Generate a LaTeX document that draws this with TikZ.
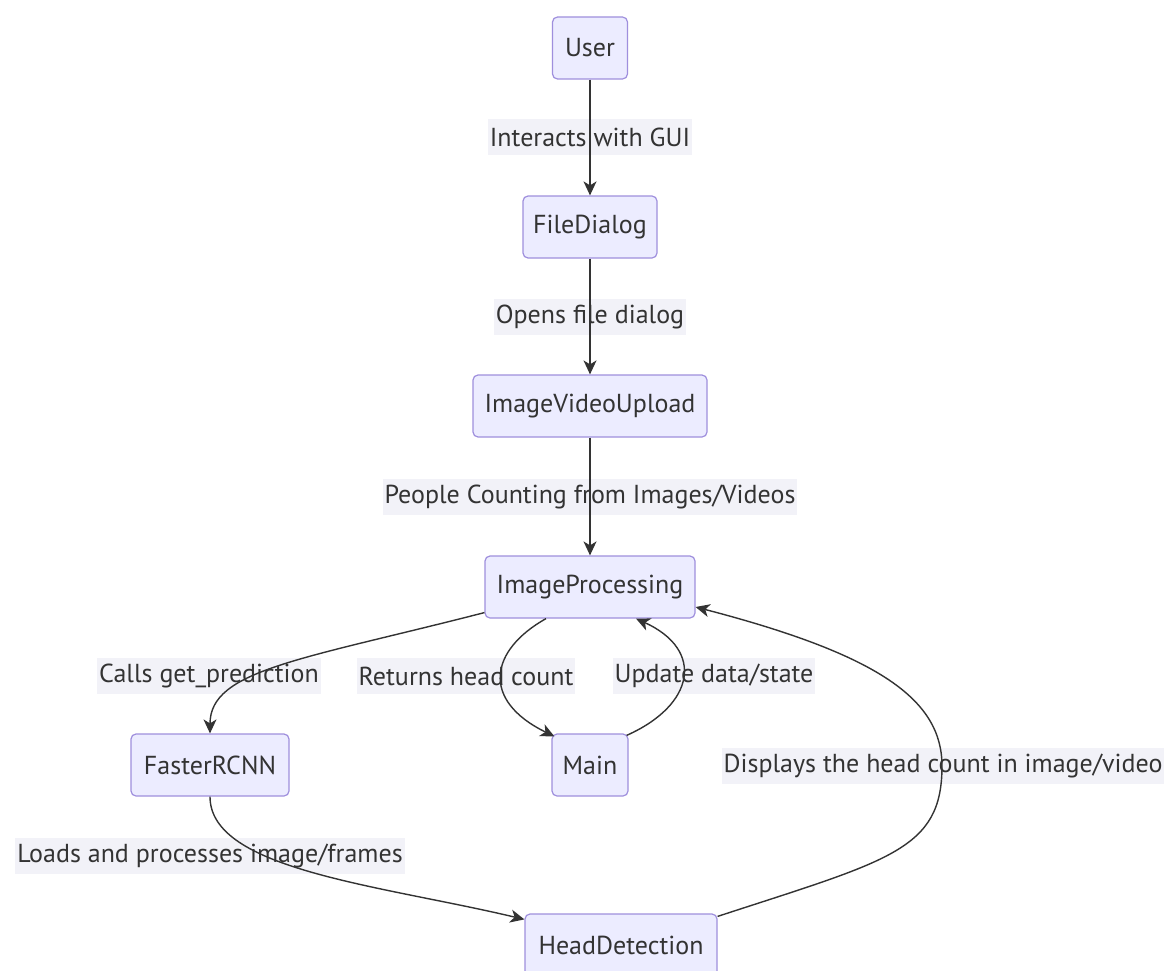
\documentclass[tikz,border=0pt]{standalone}
\usepackage{fontspec}
\setmainfont{PT Sans}
\usetikzlibrary{arrows.meta}
\definecolor{nodefill}{HTML}{ECECFF}
\definecolor{nodestroke}{HTML}{9F8FDD}
\definecolor{txt}{HTML}{333333}
\definecolor{lblbg}{HTML}{F2F2F8}
\definecolor{edgecol}{HTML}{333333}
\tikzset{
  box/.style={rectangle, rounded corners=5pt, fill=nodefill, draw=nodestroke, line width=1.2pt,
    minimum height=62pt, inner xsep=0pt, text=txt, font=\fontsize{26}{30}\selectfont},
  lbl/.style={rectangle, fill=lblbg, inner xsep=2pt, inner ysep=0pt, minimum height=36pt,
    text=txt, font=\fontsize{26}{30}\selectfont},
  conn/.style={draw=edgecol, line width=1.4pt, -{Stealth[length=14pt,width=13pt,inset=4pt]}}
}
\begin{document}
\begin{tikzpicture}[x=1pt,y=-1pt]
\useasboundingbox (0,0) rectangle (1169,971);
\fill[white] (0,0) rectangle (1169,971);
% nodes
\node[box, minimum width=75pt]  (user) at (590,48)  {User};
\node[box, minimum width=134pt] (fd)   at (590,227) {FileDialog};
\node[box, minimum width=234pt] (ivu)  at (590,406) {ImageVideoUpload};
\node[box, minimum width=210pt] (ip)   at (590,587) {ImageProcessing};
\node[box, minimum width=158pt] (frc)  at (210,765) {FasterRCNN};
\node[box, minimum width=76pt]  (main) at (590,765) {Main};
\node[box, minimum width=192pt] (hd)   at (621,945) {HeadDetection};
% labels
\node[lbl] (l1) at (590,137) {Interacts with GUI};
\node[lbl] (l2) at (590,317) {Opens file dialog};
\node[lbl] (l3) at (590,497) {People Counting from Images/Videos};
\node[lbl] (l4) at (209,676) {Calls get\_prediction};
\node[lbl] (l5) at (466,676) {Returns head count};
\node[lbl] (l6) at (714,676) {Update data/state};
\node[lbl] (l7) at (943,766) {Displays the head count in image/video};
\node[lbl] (l8) at (210,856) {Loads and processes image/frames};
% connectors
\draw[conn] (user) -- (fd);
\draw[conn] (fd) -- (ivu);
\draw[conn] (ivu) -- (ip);
\draw[conn] ([yshift=6pt]ip.south west) .. controls (300,660) and (210,670) .. (frc.north);
\draw[conn] ([xshift=-44pt]ip.south) .. controls (490,650) and (480,700) .. ([xshift=3pt,yshift=-3pt]main.north west);
\draw[conn] ([xshift=-2pt,yshift=-2pt]main.north east) .. controls (695,705) and (705,650) .. ([xshift=46pt]ip.south);
\draw[conn] ([yshift=-3pt]hd.north east) .. controls (890,860) and (942,850) .. (942,766)
   .. controls (942,700) and (880,655) .. ([yshift=-20pt]ip.east);
\draw[conn] (frc.south) .. controls (210,870) and (380,885) .. ([yshift=-6pt]hd.north west);
\end{tikzpicture}
\end{document}
